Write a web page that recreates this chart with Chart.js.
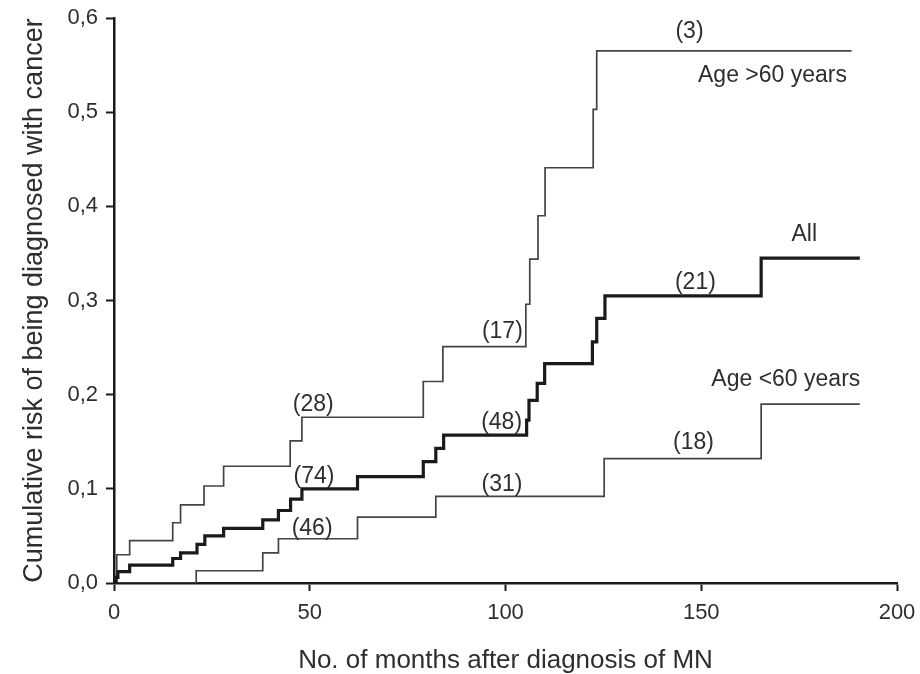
<!DOCTYPE html>
<html>
<head>
<meta charset="utf-8">
<script src="https://cdn.jsdelivr.net/npm/chart.js@4/dist/chart.umd.min.js"></script>
<style>
  html, body { margin: 0; padding: 0; background: #ffffff; }
  #wrap { width: 920px; height: 674px; }
</style>
</head>
<body>
<div id="wrap"><canvas id="c" width="920" height="674"></canvas></div>
<script>
// ---- Data (Kaplan-Meier style step curves) ----
const ageOver60Months = [0, 0.7, 4, 15, 17, 23, 28, 45, 48, 79, 84, 105.2, 106.2, 108.3, 110.1, 122.4, 123.3, 188.4];
const ageOver60Risk   = [0, 0.030, 0.045, 0.064, 0.083, 0.103, 0.124, 0.151, 0.176, 0.214, 0.251, 0.296, 0.344, 0.390, 0.441, 0.503, 0.565, 0.565];

const allMonths = [0, 0.5, 1, 4, 15, 17, 21.2, 23.2, 28, 38, 42, 45.1, 48, 62.2, 79, 82.2, 84.2, 105.4, 106, 108.1, 110, 122.2, 123.3, 125.4, 165.3, 190.5];
const allRisk   = [0, 0.006, 0.012, 0.019, 0.026, 0.032, 0.041, 0.050, 0.058, 0.067, 0.077, 0.089, 0.100, 0.113, 0.129, 0.143, 0.157, 0.173, 0.194, 0.212, 0.233, 0.256, 0.281, 0.305, 0.345, 0.345];

const ageUnder60Months = [0, 21, 38, 42, 62.2, 82.2, 125.2, 165.3, 190.5];
const ageUnder60Risk   = [0, 0.013, 0.032, 0.047, 0.070, 0.092, 0.132, 0.190, 0.190];

const yTickLabels = ['0,0', '0,1', '0,2', '0,3', '0,4', '0,5', '0,6'];
const xTickLabels = ['0', '50', '100', '150', '200'];

// Curve annotations: numbers at risk and curve names
const annotationTexts  = ['(3)', 'Age >60 years', 'All', '(21)', 'Age <60 years', '(18)', '(17)', '(48)', '(31)', '(28)', '(74)', '(46)'];
const annotationMonths = [147, 168.2, 176.3, 148.5, 171.6, 148, 99.2, 99, 99.1, 50.9, 51.1, 50.6];
const annotationRisk   = [0.585, 0.539, 0.370, 0.319, 0.216, 0.149, 0.267, 0.170, 0.104, 0.189, 0.113, 0.058];

const xTitle = 'No. of months after diagnosis of MN';
const yTitle = 'Cumulative risk of being diagnosed with cancer';

const toXY = (xs, ys) => xs.map((x, i) => ({ x: x, y: ys[i] }));

const textColor = '#2e2e2e';
const axisColor = '#1a1a1a';
const FONT = '"Liberation Sans", Arial, Helvetica, sans-serif';

const annotationPlugin = {
  id: 'curveLabels',
  afterDatasetsDraw(chart) {
    const { ctx, scales: { x, y } } = chart;
    ctx.save();
    ctx.fillStyle = textColor;
    ctx.font = '23px ' + FONT;
    ctx.textAlign = 'center';
    ctx.textBaseline = 'middle';
    annotationTexts.forEach((t, i) => {
      ctx.fillText(t, x.getPixelForValue(annotationMonths[i]), y.getPixelForValue(annotationRisk[i]));
    });
    ctx.restore();
  }
};

const common = { fill: false, pointRadius: 0, stepped: 'before', tension: 0 };

new Chart(document.getElementById('c'), {
  type: 'line',
  data: {
    datasets: [
      Object.assign({ label: 'Age <60 years', data: toXY(ageUnder60Months, ageUnder60Risk), borderColor: '#444444', borderWidth: 1.7, order: 3 }, common),
      Object.assign({ label: 'Age >60 years', data: toXY(ageOver60Months, ageOver60Risk), borderColor: '#444444', borderWidth: 1.7, order: 2 }, common),
      Object.assign({ label: 'All', data: toXY(allMonths, allRisk), borderColor: '#1a1a1a', borderWidth: 3.2, order: 1 }, common)
    ]
  },
  options: {
    responsive: false,
    animation: false,
    devicePixelRatio: 1,
    layout: { padding: { top: 18, right: 23, left: 0, bottom: 0 } },
    plugins: { legend: { display: false }, tooltip: { enabled: false } },
    scales: {
      x: {
        type: 'linear',
        min: 0, max: 200,
        afterFit(s) { s.height = 91; s.paddingLeft = 0; s.paddingRight = 0; },
        afterBuildTicks(s) { s.ticks = xTickLabels.map(v => ({ value: Number(v) })); },
        border: { display: true, color: axisColor, width: 2.5 },
        grid: { drawOnChartArea: false, drawTicks: true, tickLength: 8, tickWidth: 2, tickColor: axisColor },
        ticks: {
          color: textColor, padding: 9,
          font: { family: FONT, size: 22 },
          callback: (v, i) => xTickLabels[i]
        },
        title: {
          display: true, text: xTitle, color: textColor,
          font: { family: FONT, size: 26, lineHeight: 1 },
          padding: { top: 10, bottom: 0 }
        }
      },
      y: {
        type: 'linear',
        min: 0, max: 0.6,
        afterFit(s) { s.width = 114; s.paddingTop = 0; s.paddingBottom = 0; },
        afterBuildTicks(s) { s.ticks = yTickLabels.map((t, i) => ({ value: i / 10 })); },
        border: { display: true, color: axisColor, width: 2.5 },
        grid: { drawOnChartArea: false, drawTicks: true, tickLength: 8, tickWidth: 2, tickColor: axisColor },
        ticks: {
          color: textColor, padding: 8,
          font: { family: FONT, size: 22 },
          callback: (v, i) => yTickLabels[i]
        },
        title: {
          display: true, text: yTitle, color: textColor,
          font: { family: FONT, size: 27, lineHeight: 1 },
          padding: { top: 21, bottom: 0 }
        }
      }
    }
  },
  plugins: [annotationPlugin]
});
</script>
</body>
</html>
